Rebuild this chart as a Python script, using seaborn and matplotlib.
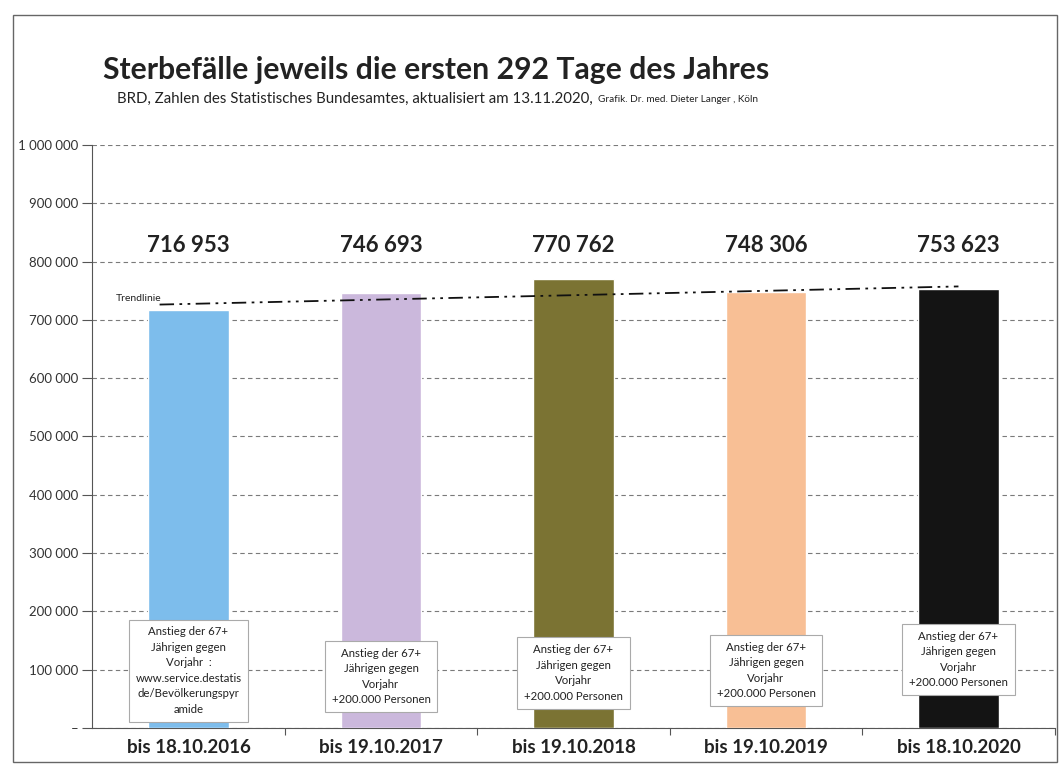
import numpy as np
import pandas as pd
import matplotlib
matplotlib.use("Agg")
import matplotlib.pyplot as plt
import seaborn as sns
from matplotlib.patches import Rectangle

periods = ["bis 18.10.2016", "bis 19.10.2017", "bis 19.10.2018", "bis 19.10.2019", "bis 18.10.2020"]
deaths = [716953, 746693, 770762, 748306, 753623]
value_labels = ["716 953", "746 693", "770 762", "748 306", "753 623"]
bar_colors = ["#7dbdec", "#cbb8dc", "#7b7333", "#f8bf95", "#141414"]
notes = [
    "Anstieg der 67+\nJährigen gegen\nVorjahr  :\nwww.service.destatis\nde/Bevölkerungspyr\namide",
    "Anstieg der 67+\nJährigen gegen\nVorjahr\n+200.000 Personen",
    "Anstieg der 67+\nJährigen gegen\nVorjahr\n+200.000 Personen",
    "Anstieg der 67+\nJährigen gegen\nVorjahr\n+200.000 Personen",
    "Anstieg der 67+\nJährigen gegen\nVorjahr\n+200.000 Personen",
]
note_y = [98000, 88000, 94000, 98000, 117000]
y_ticks = [0, 100000, 200000, 300000, 400000, 500000, 600000, 700000, 800000, 900000, 1000000]
y_tick_labels = ["–", "100 000", "200 000", "300 000", "400 000", "500 000",
                 "600 000", "700 000", "800 000", "900 000", "1 000 000"]

sns.set_theme(style="white")
plt.rcParams["font.family"] = ["Lato", "DejaVu Sans"]

fig = plt.figure(figsize=(10.6, 7.71), dpi=100)
ax = fig.add_axes([0.087, 0.056, 0.908, 0.756])

df = pd.DataFrame({"period": periods, "deaths": deaths})
sns.barplot(data=df, x="period", y="deaths", hue="period", palette=bar_colors,
            width=0.42, legend=False, ax=ax, zorder=3, saturation=1)

ax.set_ylim(0, 1000000)
ax.set_xlim(-0.5, 4.5)
ax.set_yticks(y_ticks)
ax.set_yticklabels(y_tick_labels, fontsize=9.5, color="#333333")
ax.yaxis.grid(True, linestyle=(0, (4, 3)), color="#7a7a7a", linewidth=0.8, zorder=0)
ax.xaxis.grid(False)
ax.set_xlabel("")
ax.set_ylabel("")
ax.tick_params(axis="y", which="major", length=7, width=0.8, color="#555555", left=True, pad=3)
ax.tick_params(axis="x", which="major", length=0, pad=8)
ax.set_xticks(np.arange(5))
ax.set_xticklabels(periods, fontsize=13.5, fontweight="bold", color="#222222")
ax.set_xticks(np.arange(0.5, 4.6, 1), minor=True)
ax.tick_params(axis="x", which="minor", length=5, width=0.8, color="#555555", bottom=True)
for s in ["top", "right"]:
    ax.spines[s].set_visible(False)
ax.spines["left"].set_color("#555555")
ax.spines["left"].set_linewidth(0.8)
ax.spines["bottom"].set_color("#555555")
ax.spines["bottom"].set_linewidth(0.8)

# value labels
for i, lab in enumerate(value_labels):
    ax.text(i, 828000, lab, ha="center", va="center", fontsize=16, fontweight="bold", color="#222222")

# trend line (least squares through the data)
xs = np.arange(len(deaths))
coef = np.polyfit(xs, deaths, 1)
tx = np.array([-0.15, 4.0])
ax.plot(tx, np.polyval(coef, tx) - 5000, color="#111111", linewidth=1.3,
        linestyle=(0, (8, 3, 1.5, 3, 1.5, 3)), zorder=4)
ax.text(-0.38, np.polyval(coef, -0.15) - 2000, "Trendlinie", fontsize=7.5, color="#222222",
        ha="left", va="bottom")

# note boxes
for i, (n, yy) in enumerate(zip(notes, note_y)):
    ax.text(i, yy, n, ha="center", va="center", fontsize=8.2, color="#222222", linespacing=1.5,
            zorder=5, bbox=dict(boxstyle="square,pad=0.6", facecolor="white", edgecolor="#aaaaaa", linewidth=0.8))

# title and subtitle
fig.text(0.097, 0.909, "Sterbefälle jeweils die ersten 292 Tage des Jahres", fontsize=21.7,
         fontweight="bold", color="#222222", ha="left", va="center")
t1 = fig.text(0.110, 0.872, "BRD, Zahlen des Statistisches Bundesamtes, aktualisiert am 13.11.2020,",
              fontsize=10.8, color="#222222", ha="left", va="center")
fig.canvas.draw()
bb = t1.get_window_extent(renderer=fig.canvas.get_renderer())
x_end = bb.x1 / fig.bbox.width
fig.text(x_end + 0.005, 0.871, "Grafik. Dr. med. Dieter Langer , Köln", fontsize=7.2,
         color="#222222", ha="left", va="center")

# page frame
fig.patches.append(Rectangle((0.012, 0.012), 0.985, 0.968, transform=fig.transFigure,
                             fill=False, edgecolor="#666666", linewidth=1.0))

fig.savefig("out.png", dpi=100, facecolor="white")
